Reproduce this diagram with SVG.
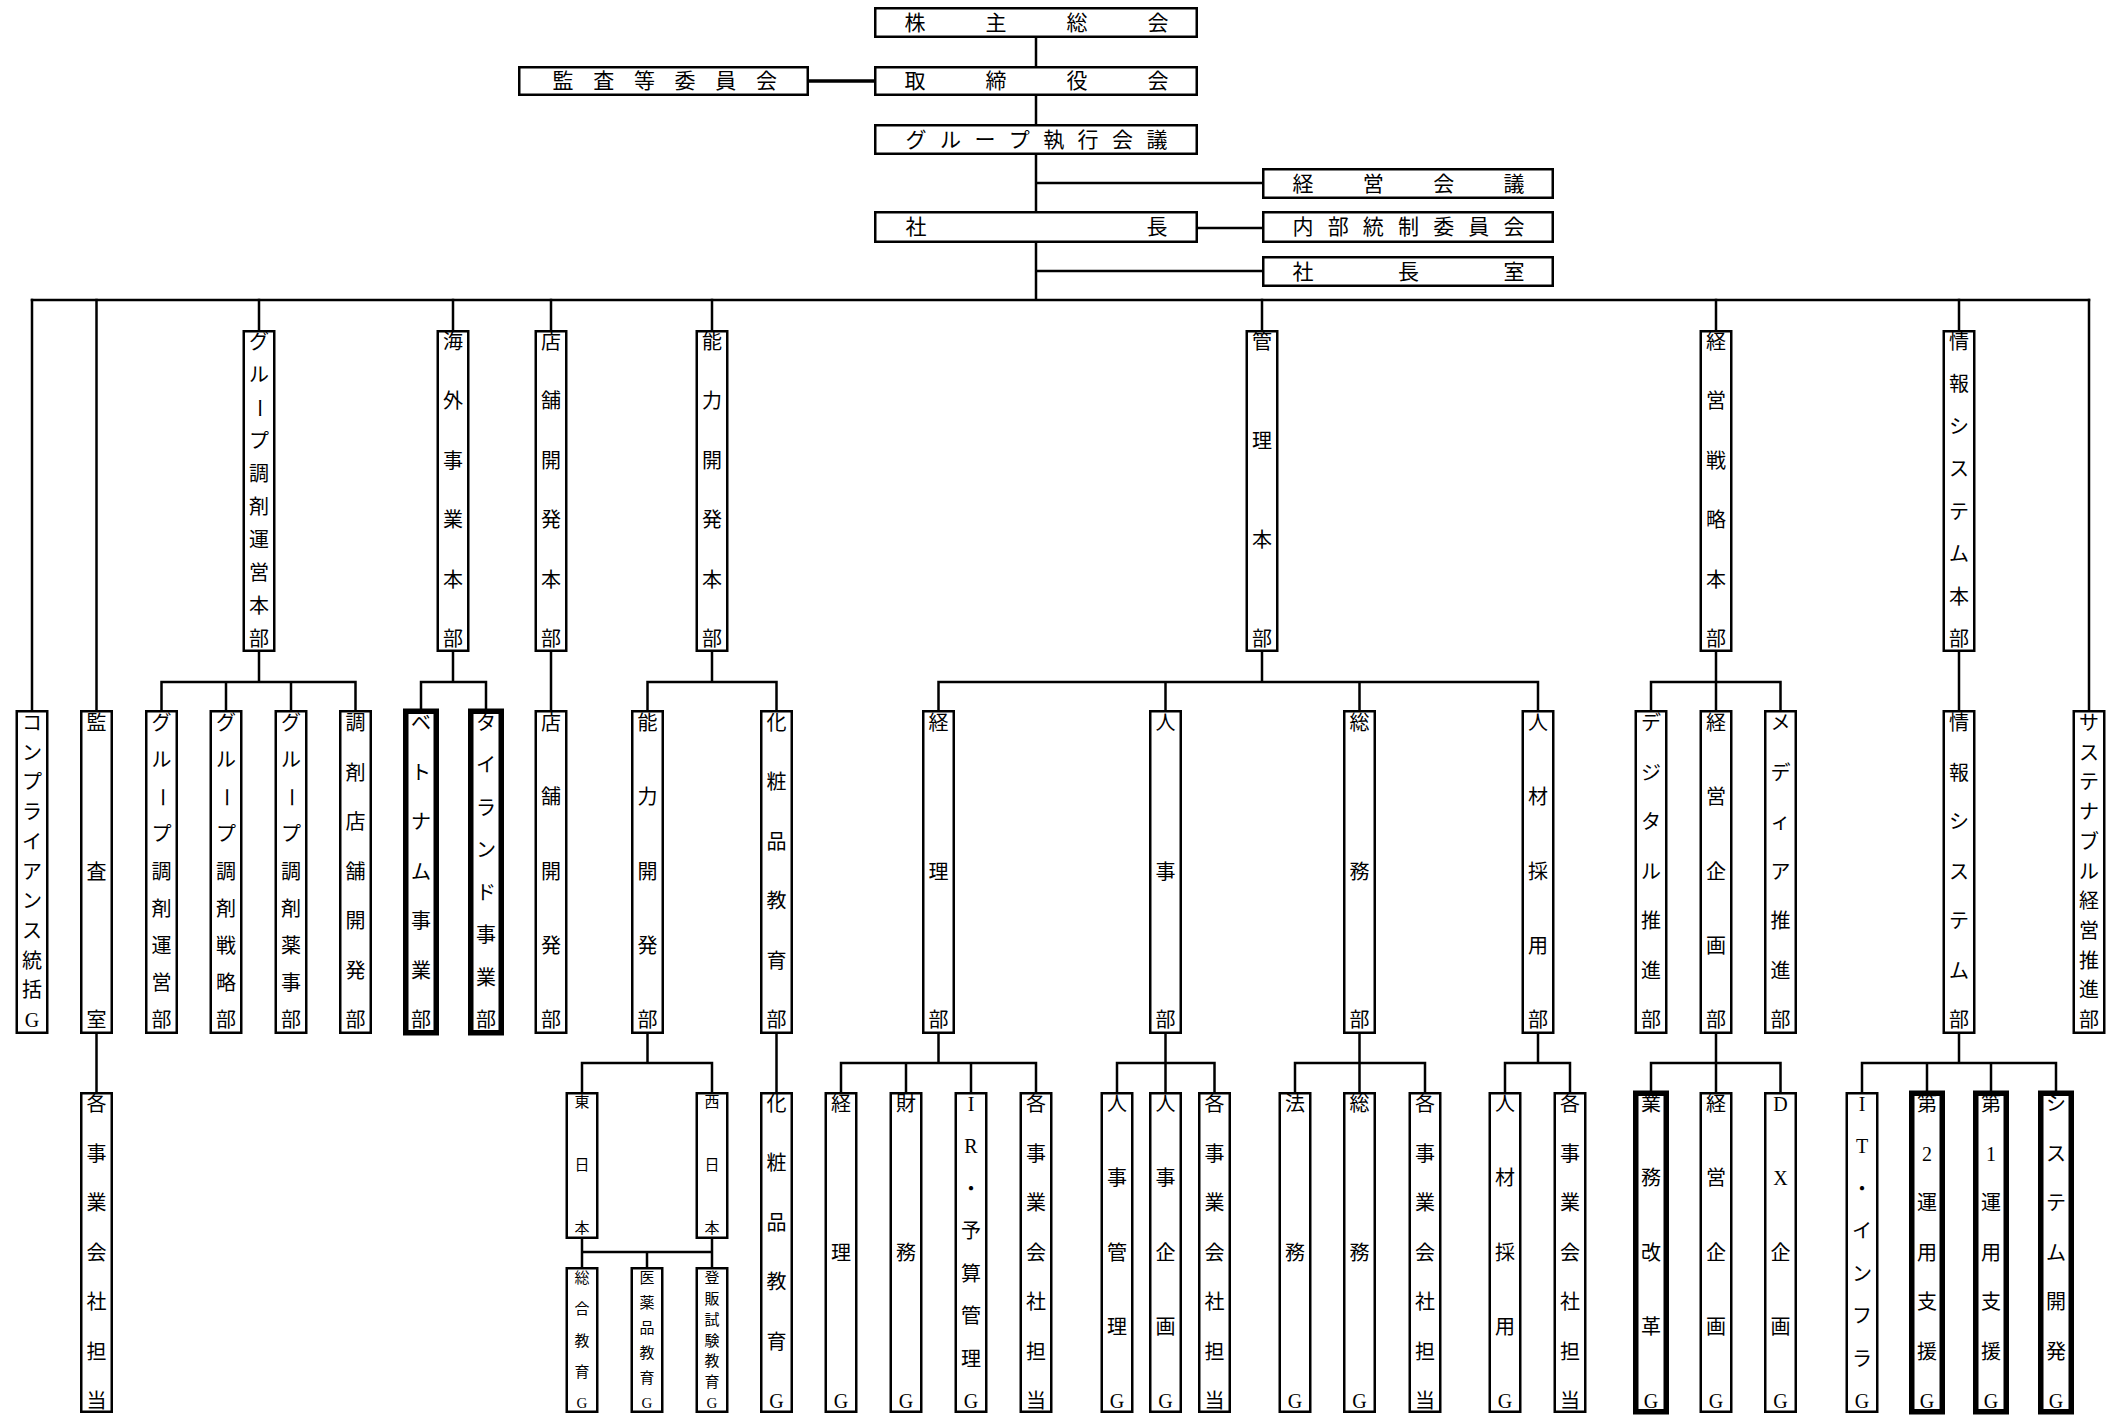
<svg xmlns="http://www.w3.org/2000/svg" width="2114" height="1416" viewBox="0 0 2114 1416">
<style>
.b{fill:#fff;stroke:#000;stroke-width:2.5}
.bb{fill:#fff;stroke:#000;stroke-width:5.5}
.t{font-family:"Liberation Serif","Noto Sans CJK JP",serif;font-size:20px;font-weight:400;text-anchor:middle;dominant-baseline:central;fill:#000}
.s{font-size:15px}
.h{font-size:21px}
.c{fill:none;stroke:#000;stroke-width:2.5;stroke-linecap:square}
</style>
<rect width="2114" height="1416" fill="#fff"/>
<g id="connectors">
<path class="c" d="M1036 38V66M1036 96V124M1036 155V211M1036 243V300M1036 183H1262M1198 228H1262M1036 271H1262M32 300H2089"/>
<path class="c" style="stroke-width:3.5" d="M809 81H874"/>
<path class="c" d="M259 300V330M453 300V330M551 300V330M712 300V330M1262 300V330M1716 300V330M1959 300V330M32 300V710M96.5 300V710M2089 300V710"/>
<path class="c" d="M259 652V682M161.5 682H355.5M161.5 682V710M226 682V710M291 682V710M355.5 682V710M453 652V682M421 682H486M421 682V710M486 682V710M551 652V710M712 652V682M647.5 682H776.5M647.5 682V710M776.5 682V710M1262 652V682M938.5 682H1538M938.5 682V710M1165.5 682V710M1359.5 682V710M1538 682V710M1716 652V710M1651 682H1780.5M1651 682V710M1780.5 682V710M1959 652V710"/>
<path class="c" d="M96.5 1034V1092M647.5 1034V1063M582 1063H712M582 1063V1092M712 1063V1092M582 1239V1267M712 1239V1267M582 1252H712M647 1252V1267M776.5 1034V1092M938.5 1034V1063M841 1063H1036M841 1063V1092M906 1063V1092M971 1063V1092M1036 1063V1092M1165.5 1034V1092M1117 1063H1214.5M1117 1063V1092M1214.5 1063V1092M1359.5 1034V1092M1295 1063H1425M1295 1063V1092M1425 1063V1092M1538 1034V1063M1505 1063H1570M1505 1063V1092M1570 1063V1092M1716 1034V1092M1651 1063H1780.5M1651 1063V1092M1780.5 1063V1092M1959 1034V1063M1862 1063H2056M1862 1063V1092M1927 1063V1092M1991 1063V1092M2056 1063V1092"/>
</g>
<g id="n_kabunushi"><rect class="b" x="875.25" y="8.25" width="321.5" height="28.5"/><text class="t h" x="915 996 1077 1158" y="22.5">株主総会</text></g>
<g id="n_torishimari"><rect class="b" x="875.25" y="67.25" width="321.5" height="27.5"/><text class="t h" x="915 996 1077 1158" y="81">取締役会</text></g>
<g id="n_kansa"><rect class="b" x="519.25" y="67.25" width="288.5" height="27.5"/><text class="t h" x="563 603.7 644.4 685.1 725.8 766.5" y="81">監査等委員会</text></g>
<g id="n_shikkou"><rect class="b" x="875.25" y="125.25" width="321.5" height="28.5"/><text class="t h" x="916 950.4 984.9 1019.3 1053.7 1088.1 1122.6 1157" y="139.5">グループ執行会議</text></g>
<g id="n_keiei"><rect class="b" x="1263.25" y="169.25" width="289.5" height="28.5"/><text class="t h" x="1303 1373.3 1443.7 1514" y="183.5">経営会議</text></g>
<g id="n_shacho"><rect class="b" x="875.25" y="212.25" width="321.5" height="29.5"/><text class="t h" x="916 1157" y="227">社長</text></g>
<g id="n_naibu"><rect class="b" x="1263.25" y="212.25" width="289.5" height="29.5"/><text class="t h" x="1303 1338.2 1373.3 1408.5 1443.7 1478.8 1514" y="227">内部統制委員会</text></g>
<g id="n_shachoshitsu"><rect class="b" x="1263.25" y="257.25" width="289.5" height="28.5"/><text class="t h" x="1303 1408.5 1514" y="271.5">社長室</text></g>

<g id="n_grp_honbu" transform="translate(259,330)"><rect class="b" x="-15.25" y="1.25" width="30.5" height="319.5"/><text class="t" x="0 0" y="12 45">グル</text><text class="t" transform="translate(0,78) rotate(90)">ー</text><text class="t" x="0 0 0 0 0 0 0" y="111 144 177 210 243 276 309">プ調剤運営本部</text></g>
<g id="n_kaigai_honbu" transform="translate(453,330)"><rect class="b" x="-15.25" y="1.25" width="30.5" height="319.5"/><text class="t" x="0 0 0 0 0 0" y="12 71.4 130.8 190.2 249.6 309">海外事業本部</text></g>
<g id="n_tenpo_honbu" transform="translate(551,330)"><rect class="b" x="-15.25" y="1.25" width="30.5" height="319.5"/><text class="t" x="0 0 0 0 0 0" y="12 71.4 130.8 190.2 249.6 309">店舗開発本部</text></g>
<g id="n_noryoku_honbu" transform="translate(712,330)"><rect class="b" x="-15.25" y="1.25" width="30.5" height="319.5"/><text class="t" x="0 0 0 0 0 0" y="12 71.4 130.8 190.2 249.6 309">能力開発本部</text></g>
<g id="n_kanri_honbu" transform="translate(1262,330)"><rect class="b" x="-15.25" y="1.25" width="30.5" height="319.5"/><text class="t" x="0 0 0 0" y="12 111 210 309">管理本部</text></g>
<g id="n_senryaku_honbu" transform="translate(1716,330)"><rect class="b" x="-15.25" y="1.25" width="30.5" height="319.5"/><text class="t" x="0 0 0 0 0 0" y="12 71.4 130.8 190.2 249.6 309">経営戦略本部</text></g>
<g id="n_joho_honbu" transform="translate(1959,330)"><rect class="b" x="-15.25" y="1.25" width="30.5" height="319.5"/><text class="t" x="0 0 0 0 0 0 0 0" y="12 54.4 96.9 139.3 181.7 224.1 266.6 309">情報システム本部</text></g>

<g id="n_compliance" transform="translate(32,711)"><rect class="b" x="-15.25" y="0.25" width="30.5" height="321.5"/><text class="t" x="0 0 0 0 0 0 0 0 0 0 0" y="12 41.7 71.4 101.1 130.8 160.5 190.2 219.9 249.6 279.3 309">コンプライアンス統括G</text></g>
<g id="n_kansashitsu" transform="translate(96.5,711)"><rect class="b" x="-15.25" y="0.25" width="30.5" height="321.5"/><text class="t" x="0 0 0" y="12 160.5 309">監査室</text></g>
<g id="n_grp_unei" transform="translate(161.5,711)"><rect class="b" x="-15.25" y="0.25" width="30.5" height="321.5"/><text class="t" x="0 0" y="12 49.1">グル</text><text class="t" transform="translate(0,86.3) rotate(90)">ー</text><text class="t" x="0 0 0 0 0 0" y="123.4 160.5 197.6 234.8 271.9 309">プ調剤運営部</text></g>
<g id="n_grp_senryaku" transform="translate(226,711)"><rect class="b" x="-15.25" y="0.25" width="30.5" height="321.5"/><text class="t" x="0 0" y="12 49.1">グル</text><text class="t" transform="translate(0,86.3) rotate(90)">ー</text><text class="t" x="0 0 0 0 0 0" y="123.4 160.5 197.6 234.8 271.9 309">プ調剤戦略部</text></g>
<g id="n_grp_yakuji" transform="translate(291,711)"><rect class="b" x="-15.25" y="0.25" width="30.5" height="321.5"/><text class="t" x="0 0" y="12 49.1">グル</text><text class="t" transform="translate(0,86.3) rotate(90)">ー</text><text class="t" x="0 0 0 0 0 0" y="123.4 160.5 197.6 234.8 271.9 309">プ調剤薬事部</text></g>
<g id="n_chozai_tenpo" transform="translate(355.5,711)"><rect class="b" x="-15.25" y="0.25" width="30.5" height="321.5"/><text class="t" x="0 0 0 0 0 0 0" y="12 61.5 111 160.5 210 259.5 309">調剤店舗開発部</text></g>
<g id="n_vietnam" transform="translate(421,711)"><rect class="bb" x="-15.25" y="0.25" width="30.5" height="321.5"/><text class="t" x="0 0 0 0 0 0 0" y="12 61.5 111 160.5 210 259.5 309">ベトナム事業部</text></g>
<g id="n_thailand" transform="translate(486,711)"><rect class="bb" x="-15.25" y="0.25" width="30.5" height="321.5"/><text class="t" x="0 0 0 0 0 0 0 0" y="12 54.4 96.9 139.3 181.7 224.1 266.6 309">タイランド事業部</text></g>
<g id="n_tenpo" transform="translate(551,711)"><rect class="b" x="-15.25" y="0.25" width="30.5" height="321.5"/><text class="t" x="0 0 0 0 0" y="12 86.3 160.5 234.8 309">店舗開発部</text></g>
<g id="n_noryoku" transform="translate(647.5,711)"><rect class="b" x="-15.25" y="0.25" width="30.5" height="321.5"/><text class="t" x="0 0 0 0 0" y="12 86.3 160.5 234.8 309">能力開発部</text></g>
<g id="n_keshohin" transform="translate(776.5,711)"><rect class="b" x="-15.25" y="0.25" width="30.5" height="321.5"/><text class="t" x="0 0 0 0 0 0" y="12 71.4 130.8 190.2 249.6 309">化粧品教育部</text></g>
<g id="n_keiri" transform="translate(938.5,711)"><rect class="b" x="-15.25" y="0.25" width="30.5" height="321.5"/><text class="t" x="0 0 0" y="12 160.5 309">経理部</text></g>
<g id="n_jinji" transform="translate(1165.5,711)"><rect class="b" x="-15.25" y="0.25" width="30.5" height="321.5"/><text class="t" x="0 0 0" y="12 160.5 309">人事部</text></g>
<g id="n_somu" transform="translate(1359.5,711)"><rect class="b" x="-15.25" y="0.25" width="30.5" height="321.5"/><text class="t" x="0 0 0" y="12 160.5 309">総務部</text></g>
<g id="n_jinzai" transform="translate(1538,711)"><rect class="b" x="-15.25" y="0.25" width="30.5" height="321.5"/><text class="t" x="0 0 0 0 0" y="12 86.3 160.5 234.8 309">人材採用部</text></g>
<g id="n_digital" transform="translate(1651,711)"><rect class="b" x="-15.25" y="0.25" width="30.5" height="321.5"/><text class="t" x="0 0 0 0 0 0 0" y="12 61.5 111 160.5 210 259.5 309">デジタル推進部</text></g>
<g id="n_keiei_kikaku" transform="translate(1716,711)"><rect class="b" x="-15.25" y="0.25" width="30.5" height="321.5"/><text class="t" x="0 0 0 0 0" y="12 86.3 160.5 234.8 309">経営企画部</text></g>
<g id="n_media" transform="translate(1780.5,711)"><rect class="b" x="-15.25" y="0.25" width="30.5" height="321.5"/><text class="t" x="0 0 0 0 0 0 0" y="12 61.5 111 160.5 210 259.5 309">メディア推進部</text></g>
<g id="n_joho" transform="translate(1959,711)"><rect class="b" x="-15.25" y="0.25" width="30.5" height="321.5"/><text class="t" x="0 0 0 0 0 0 0" y="12 61.5 111 160.5 210 259.5 309">情報システム部</text></g>
<g id="n_sustainable" transform="translate(2089,711)"><rect class="b" x="-15.25" y="0.25" width="30.5" height="321.5"/><text class="t" x="0 0 0 0 0 0 0 0 0 0 0" y="12 41.7 71.4 101.1 130.8 160.5 190.2 219.9 249.6 279.3 309">サステナブル経営推進部</text></g>

<g id="n_kansa_tanto" transform="translate(96.5,1092)"><rect class="b" x="-15.25" y="1.25" width="30.5" height="318.5"/><text class="t" x="0 0 0 0 0 0 0" y="12 61.5 111 160.5 210 259.5 309">各事業会社担当</text></g>
<g id="n_higashi" transform="translate(582,1092)"><rect class="b" x="-15.25" y="1.25" width="30.5" height="144.5"/><text class="t s" x="0 0 0" y="10 73 136">東日本</text></g>
<g id="n_nishi" transform="translate(712,1092)"><rect class="b" x="-15.25" y="1.25" width="30.5" height="144.5"/><text class="t s" x="0 0 0" y="10 73 136">西日本</text></g>
<g id="n_sogo" transform="translate(582,1267)"><rect class="b" x="-15.25" y="1.25" width="30.5" height="143.5"/><text class="t s" x="0 0 0 0 0" y="11 42.3 73.5 104.8 136">総合教育G</text></g>
<g id="n_iyaku" transform="translate(647,1267)"><rect class="b" x="-15.25" y="1.25" width="30.5" height="143.5"/><text class="t s" x="0 0 0 0 0 0" y="11 36 61 86 111 136">医薬品教育G</text></g>
<g id="n_tohan" transform="translate(712,1267)"><rect class="b" x="-15.25" y="1.25" width="30.5" height="143.5"/><text class="t s" x="0 0 0 0 0 0 0" y="11 31.8 52.7 73.5 94.3 115.2 136">登販試験教育G</text></g>
<g id="n_keshohin_g" transform="translate(776.5,1092)"><rect class="b" x="-15.25" y="1.25" width="30.5" height="318.5"/><text class="t" x="0 0 0 0 0 0" y="12 71.4 130.8 190.2 249.6 309">化粧品教育G</text></g>
<g id="n_keiri_g" transform="translate(841,1092)"><rect class="b" x="-15.25" y="1.25" width="30.5" height="318.5"/><text class="t" x="0 0 0" y="12 160.5 309">経理G</text></g>
<g id="n_zaimu_g" transform="translate(906,1092)"><rect class="b" x="-15.25" y="1.25" width="30.5" height="318.5"/><text class="t" x="0 0 0" y="12 160.5 309">財務G</text></g>
<g id="n_ir_g" transform="translate(971,1092)"><rect class="b" x="-15.25" y="1.25" width="30.5" height="318.5"/><text class="t" x="0 0 0 0 0 0 0 0" y="12 54.4 96.9 139.3 181.7 224.1 266.6 309">IR・予算管理G</text></g>
<g id="n_keiri_tanto" transform="translate(1036,1092)"><rect class="b" x="-15.25" y="1.25" width="30.5" height="318.5"/><text class="t" x="0 0 0 0 0 0 0" y="12 61.5 111 160.5 210 259.5 309">各事業会社担当</text></g>
<g id="n_jinji_kanri" transform="translate(1117,1092)"><rect class="b" x="-15.25" y="1.25" width="30.5" height="318.5"/><text class="t" x="0 0 0 0 0" y="12 86.3 160.5 234.8 309">人事管理G</text></g>
<g id="n_jinji_kikaku" transform="translate(1165.5,1092)"><rect class="b" x="-15.25" y="1.25" width="30.5" height="318.5"/><text class="t" x="0 0 0 0 0" y="12 86.3 160.5 234.8 309">人事企画G</text></g>
<g id="n_jinji_tanto" transform="translate(1214.5,1092)"><rect class="b" x="-15.25" y="1.25" width="30.5" height="318.5"/><text class="t" x="0 0 0 0 0 0 0" y="12 61.5 111 160.5 210 259.5 309">各事業会社担当</text></g>
<g id="n_homu_g" transform="translate(1295,1092)"><rect class="b" x="-15.25" y="1.25" width="30.5" height="318.5"/><text class="t" x="0 0 0" y="12 160.5 309">法務G</text></g>
<g id="n_somu_g" transform="translate(1359.5,1092)"><rect class="b" x="-15.25" y="1.25" width="30.5" height="318.5"/><text class="t" x="0 0 0" y="12 160.5 309">総務G</text></g>
<g id="n_somu_tanto" transform="translate(1425,1092)"><rect class="b" x="-15.25" y="1.25" width="30.5" height="318.5"/><text class="t" x="0 0 0 0 0 0 0" y="12 61.5 111 160.5 210 259.5 309">各事業会社担当</text></g>
<g id="n_jinzai_g" transform="translate(1505,1092)"><rect class="b" x="-15.25" y="1.25" width="30.5" height="318.5"/><text class="t" x="0 0 0 0 0" y="12 86.3 160.5 234.8 309">人材採用G</text></g>
<g id="n_jinzai_tanto" transform="translate(1570,1092)"><rect class="b" x="-15.25" y="1.25" width="30.5" height="318.5"/><text class="t" x="0 0 0 0 0 0 0" y="12 61.5 111 160.5 210 259.5 309">各事業会社担当</text></g>
<g id="n_gyomu_g" transform="translate(1651,1092)"><rect class="bb" x="-15.25" y="1.25" width="30.5" height="318.5"/><text class="t" x="0 0 0 0 0" y="12 86.3 160.5 234.8 309">業務改革G</text></g>
<g id="n_keiei_kikaku_g" transform="translate(1716,1092)"><rect class="b" x="-15.25" y="1.25" width="30.5" height="318.5"/><text class="t" x="0 0 0 0 0" y="12 86.3 160.5 234.8 309">経営企画G</text></g>
<g id="n_dx_g" transform="translate(1780.5,1092)"><rect class="b" x="-15.25" y="1.25" width="30.5" height="318.5"/><text class="t" x="0 0 0 0 0" y="12 86.3 160.5 234.8 309">DX企画G</text></g>
<g id="n_it_g" transform="translate(1862,1092)"><rect class="b" x="-15.25" y="1.25" width="30.5" height="318.5"/><text class="t" x="0 0 0 0 0 0 0 0" y="12 54.4 96.9 139.3 181.7 224.1 266.6 309">IT・インフラG</text></g>
<g id="n_unyo2_g" transform="translate(1927,1092)"><rect class="bb" x="-15.25" y="1.25" width="30.5" height="318.5"/><text class="t" x="0 0 0 0 0 0 0" y="12 61.5 111 160.5 210 259.5 309">第2運用支援G</text></g>
<g id="n_unyo1_g" transform="translate(1991,1092)"><rect class="bb" x="-15.25" y="1.25" width="30.5" height="318.5"/><text class="t" x="0 0 0 0 0 0 0" y="12 61.5 111 160.5 210 259.5 309">第1運用支援G</text></g>
<g id="n_sysdev_g" transform="translate(2056,1092)"><rect class="bb" x="-15.25" y="1.25" width="30.5" height="318.5"/><text class="t" x="0 0 0 0 0 0 0" y="12 61.5 111 160.5 210 259.5 309">システム開発G</text></g>
</svg>
